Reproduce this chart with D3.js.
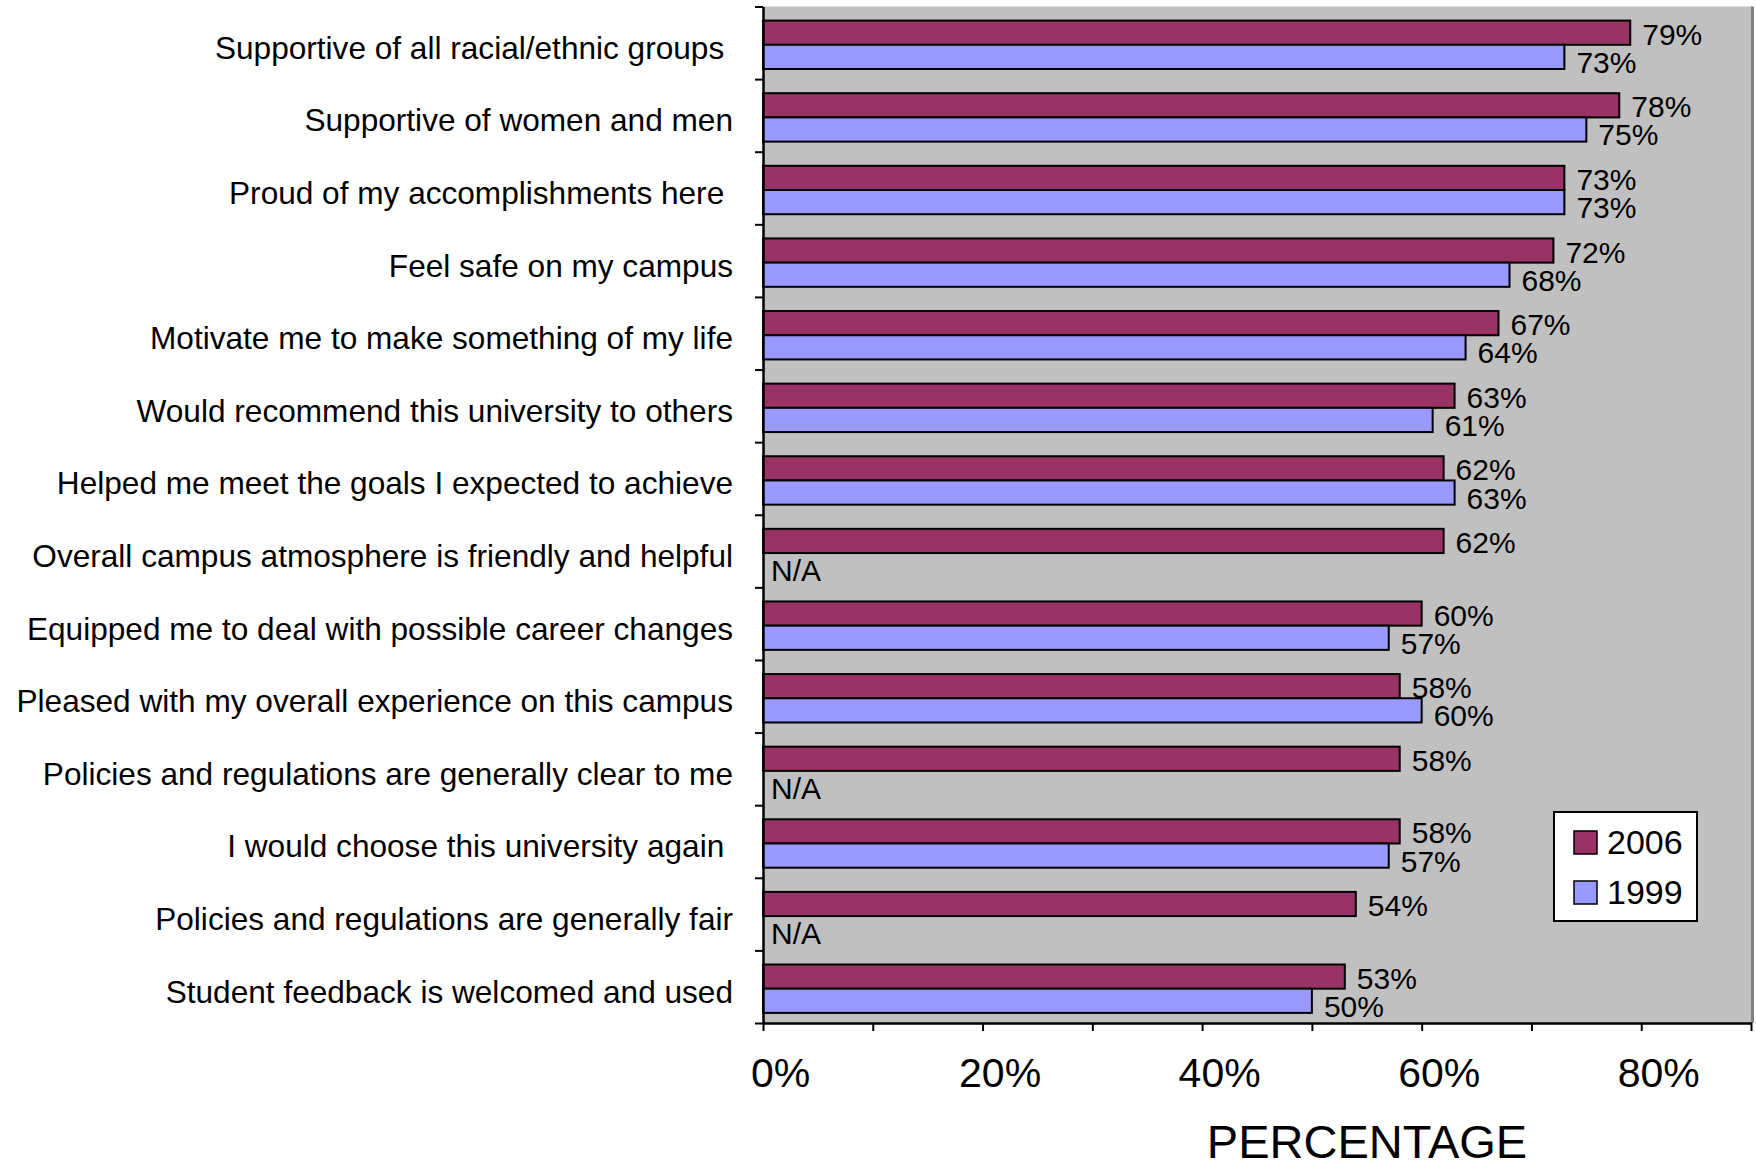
<!DOCTYPE html>
<html>
<head>
<meta charset="utf-8">
<script src="https://cdn.jsdelivr.net/npm/d3@7"></script>
<style>
  html, body { margin: 0; padding: 0; background: #fff; }
  svg { display: block; font-family: "Liberation Sans", Arial, sans-serif; }
  text { white-space: pre; }
</style>
</head>
<body>
<svg id="chart" width="1756" height="1166"></svg>
<script>
// survey statements, top to bottom
const categories = [
    "Supportive of all racial/ethnic groups ",
    "Supportive of women and men",
    "Proud of my accomplishments here ",
    "Feel safe on my campus",
    "Motivate me to make something of my life",
    "Would recommend this university to others",
    "Helped me meet the goals I expected to achieve",
    "Overall campus atmosphere is friendly and helpful",
    "Equipped me to deal with possible career changes",
    "Pleased with my overall experience on this campus",
    "Policies and regulations are generally clear to me",
    "I would choose this university again ",
    "Policies and regulations are generally fair",
    "Student feedback is welcomed and used"
];

// percent agreeing; null = not asked that year
const values2006 = [79, 78, 73, 72, 67, 63, 62, 62, 60, 58, 58, 58, 54, 53];
const values1999 = [73, 75, 73, 68, 64, 61, 63, null, 57, 60, null, 57, null, 50];

const seriesNames = ["2006", "1999"];
const seriesColors = ["#993366", "#9999FF"];

const xTickValues = [0, 10, 20, 30, 40, 50, 60, 70, 80, 90];
const xTickLabels = ["0%", "", "20%", "", "40%", "", "60%", "", "80%", ""];

const svg = d3.select("#chart");

/** plot area */
const plot = { left: 763, right: 1751, top: 6.5, bottom: 1023 };

const x = d3.scaleLinear()
    .domain([0, 90])
    .range([plot.left, plot.right]);

const y = d3.scaleBand()
    .domain(categories)
    .range([plot.top, plot.bottom]);

// two bars per band, gap equal to one bar
const ySub = d3.scaleBand()
    .domain(seriesNames)
    .range([0, y.bandwidth()])
    .paddingOuter(0.5);

// background
svg.append("rect")
    .attr("x", plot.left)
    .attr("y", plot.top)
    .attr("width", plot.right - plot.left + 1)
    .attr("height", plot.bottom - plot.top)
    .attr("fill", "#C0C0C0");

svg.append("line")
    .attr("x1", plot.right + 1.5).attr("x2", plot.right + 1.5)
    .attr("y1", plot.top).attr("y2", plot.bottom)
    .attr("stroke", "#808080")
    .attr("stroke-width", 3);

const rows = categories.map((c, i) => ({
    cat: c,
    vals: [values2006[i], values1999[i]]
}));

const groups = svg.append("g")
    .selectAll("g")
    .data(rows)
    .join("g")
    .attr("transform", d => "translate(0," + (y(d.cat) + 2) + ")");

// bars
groups.selectAll("rect")
    .data(d => d.vals.map((v, k) => ({ v: v, k: k })).filter(e => e.v !== null))
    .join("rect")
    .attr("x", x(0))
    .attr("y", e => ySub(seriesNames[e.k]))
    .attr("width", e => x(e.v) - x(0))
    .attr("height", ySub.bandwidth())
    .attr("fill", e => seriesColors[e.k])
    .attr("stroke", "#000")
    .attr("stroke-width", 2);

// value labels (N/A where a year is missing)
const labelOffset = [12, 16];
groups.selectAll("text")
    .data(d => d.vals.map((v, k) => ({ v: v, k: k })))
    .join("text")
    .attr("x", e => e.v === null ? x(0) + 8 : x(e.v) + 12)
    .attr("y", e => ySub(seriesNames[e.k]) + ySub.bandwidth() / 2 + labelOffset[e.k])
    .attr("font-size", 30)
    .attr("fill", "#000")
    .text(e => e.v === null ? "N/A" : e.v + "%");

// category axis: ticks at band edges
const yEdges = d3.scaleLinear()
    .domain([0, categories.length])
    .range([plot.top, plot.bottom]);

const yAxis = svg.append("g")
    .attr("transform", "translate(" + plot.left + ",0)")
    .call(d3.axisLeft(yEdges)
        .tickValues(d3.range(categories.length + 1))
        .tickFormat("")
        .tickSize(8)
        .tickSizeOuter(0));
yAxis.select(".domain").attr("stroke-width", 2.5);
yAxis.selectAll(".tick line").attr("stroke-width", 2);

svg.append("g")
    .selectAll("text")
    .data(categories)
    .join("text")
    .attr("x", 733)
    .attr("y", d => y(d) + y.bandwidth() / 2 + 16)
    .attr("text-anchor", "end")
    .attr("font-size", 31.6)
    .attr("fill", "#000")
    .text(d => d);

// percentage axis
const xAxis = svg.append("g")
    .attr("transform", "translate(0," + plot.bottom + ")")
    .call(d3.axisBottom(x)
        .tickValues(xTickValues)
        .tickFormat((d, i) => xTickLabels[i])
        .tickSize(8)
        .tickSizeOuter(0));
xAxis.select(".domain").attr("stroke-width", 2.5);
xAxis.selectAll(".tick line").attr("stroke-width", 2);
xAxis.selectAll(".tick text")
    .attr("font-family", null)
    .attr("font-size", 41)
    .attr("y", 64)
    .attr("dy", 0)
    .attr("dx", 17)
    .attr("fill", "#000");

svg.append("text")
    .attr("x", 1367)
    .attr("y", 1158)
    .attr("text-anchor", "middle")
    .attr("font-size", 47)
    .attr("fill", "#000")
    .text("PERCENTAGE");

// legend
const legend = svg.append("g").attr("transform", "translate(1554,812)");
legend.append("rect")
    .attr("width", 143)
    .attr("height", 109)
    .attr("fill", "#fff")
    .attr("stroke", "#000")
    .attr("stroke-width", 2);

const items = legend.selectAll("g.item")
    .data(seriesNames)
    .join("g")
    .attr("class", "item")
    .attr("transform", (d, i) => "translate(20," + (19 + i * 50) + ")");
items.append("rect")
    .attr("width", 23)
    .attr("height", 23)
    .attr("fill", (d, i) => seriesColors[i])
    .attr("stroke", "#000")
    .attr("stroke-width", 1.5);
items.append("text")
    .attr("x", 33)
    .attr("y", 23)
    .attr("font-size", 34)
    .attr("fill", "#000")
    .text(d => d);
</script>
</body>
</html>
